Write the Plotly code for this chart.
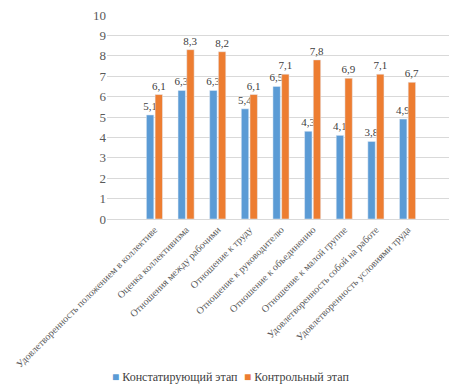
import plotly.graph_objects as go

categories = [
    "Удовлетворенность положением в коллективе",
    "Оценка коллективизма",
    "Отношения между рабочими",
    "Отношение к труду",
    "Отношение к руководителю",
    "Отношение к объединению",
    "Отношение к малой группе",
    "Удовлетворенность собой на работе",
    "Удовлетворенность условиями труда",
]
stage1_name = "Констатирующий этап"
stage2_name = "Контрольный этап"
stage1 = [5.1, 6.3, 6.3, 5.4, 6.5, 4.3, 4.1, 3.8, 4.9]
stage2 = [6.1, 8.3, 8.2, 6.1, 7.1, 7.8, 6.9, 7.1, 6.7]
y_ticks = list(range(0, 11))

FONT = "Liberation Serif"
BLUE = "#5B9BD5"
ORANGE = "#ED7D31"
idx = list(range(len(categories)))

fig = go.Figure()
fig.add_trace(go.Bar(
    x=idx, y=stage1, name=stage1_name, marker_color=BLUE,
    texttemplate="%{y:.1f}", textposition="outside", cliponaxis=False,
    constraintext="none",
    textfont=dict(family=FONT, size=11, color="#404040"),
))
fig.add_trace(go.Bar(
    x=idx, y=stage2, name=stage2_name, marker_color=ORANGE,
    texttemplate="%{y:.1f}", textposition="outside", cliponaxis=False,
    constraintext="none",
    textfont=dict(family=FONT, size=11, color="#404040"),
))

# legend drawn as text entries (series name with a coloured square)
legend_items = [(stage1_name, BLUE, 0.0086), (stage2_name, ORANGE, 0.388)]
annotations = [
    dict(
        text=f"<span style='color:{col}'>■</span> {name}",
        xref="paper", yref="paper", x=xp, y=-0.7745,
        xanchor="left", yanchor="middle", showarrow=False,
        font=dict(family=FONT, size=12, color="#404040"),
    )
    for name, col, xp in legend_items
]

fig.update_layout(
    width=449, height=384,
    margin=dict(l=99, r=2, t=7, b=173, autoexpand=False),
    paper_bgcolor="white", plot_bgcolor="white",
    separators=", ",
    barmode="group", bargap=0.45, bargroupgap=0.15,
    font=dict(family=FONT, color="#595959"),
    showlegend=False,
    annotations=annotations,
)
fig.update_xaxes(
    tickmode="array", tickvals=idx, ticktext=categories,
    tickangle=-45, range=[-1.5, 9.5], automargin=False,
    tickfont=dict(family=FONT, size=10, color="#595959"),
    showgrid=False, showline=True, linecolor="#d9d9d9", linewidth=1,
    ticks="", zeroline=False,
)
fig.update_yaxes(
    range=[0, 10], tickmode="array", tickvals=y_ticks, automargin=False,
    ticklabeloverflow="allow",
    tickfont=dict(family=FONT, size=13, color="#595959"),
    showgrid=True, gridcolor="#d9d9d9", gridwidth=1,
    zeroline=False, ticks="", ticklen=0,
)

fig.write_html("out.html")
